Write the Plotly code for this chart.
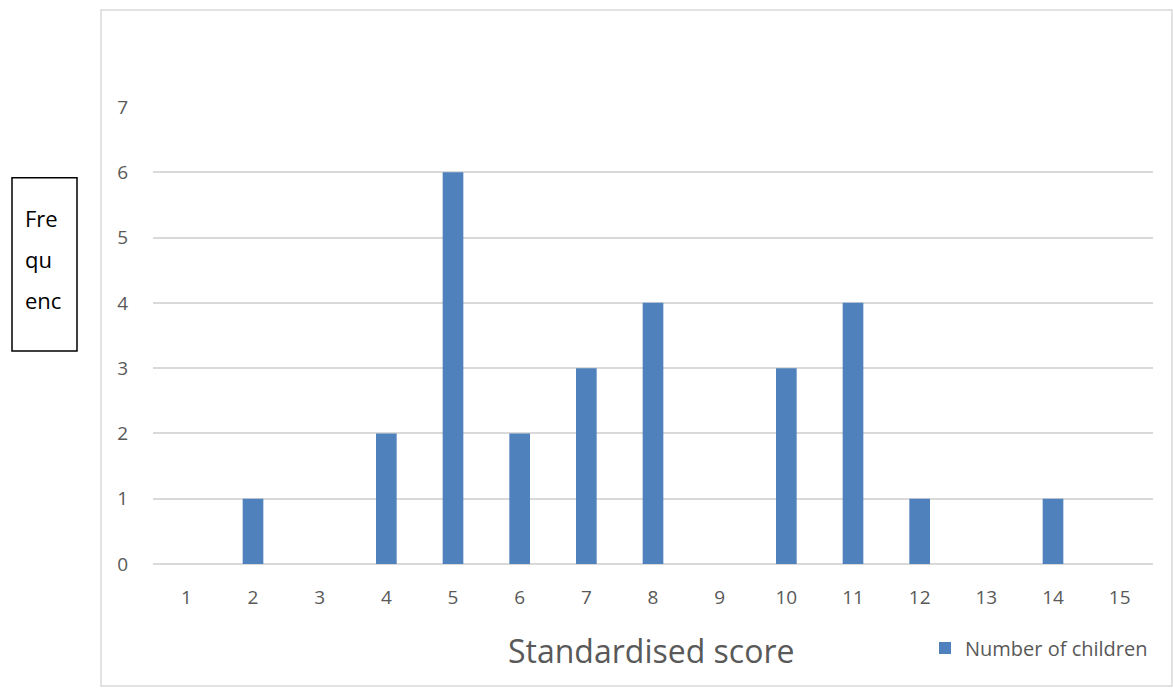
import plotly.graph_objects as go

# data
scores = ['1', '2', '3', '4', '5', '6', '7', '8', '9', '10', '11', '12', '13', '14', '15']
children = [0, 1, 0, 2, 6, 2, 3, 4, 0, 3, 4, 1, 0, 1, 0]

fig = go.Figure()
fig.add_trace(go.Bar(x=scores, y=children, name='Number of children',
                     marker=dict(color='#4F81BD', line=dict(width=0)), width=0.31))

fig.update_layout(
    width=1173, height=688,
    margin=dict(l=153, r=20, t=107, b=124),
    plot_bgcolor='white', paper_bgcolor='white',
    font=dict(family='Open Sans, Liberation Sans, sans-serif', color='#595959', size=16),
    showlegend=True,
    legend=dict(x=0.772, y=-0.184, xanchor='left', yanchor='middle',
                font=dict(size=20, color='#595959'), bgcolor='rgba(0,0,0,0)'),
)
fig.update_xaxes(type='category', showgrid=False, showline=False,
                 ticks='outside', ticklen=16, tickcolor='rgba(0,0,0,0)',
                 tickfont=dict(size=19, color='#595959'))
fig.update_yaxes(range=[0, 7], dtick=1, showgrid=True, gridcolor='#D9D9D9', gridwidth=1.5,
                 zeroline=True, zerolinecolor='#D9D9D9', zerolinewidth=1.5, showline=False,
                 ticks='outside', ticklen=20, tickcolor='rgba(0,0,0,0)',
                 tickfont=dict(size=19, color='#595959'))

# axis title
fig.add_annotation(text='Standardised score', xref='paper', yref='paper', x=0.498, y=-0.19,
                   xanchor='center', yanchor='middle',
                   showarrow=False, font=dict(size=32, color='#595959'))

# chart border
fig.add_shape(type='rect', xref='paper', yref='paper', x0=-0.052, x1=1.019, y0=-0.267, y1=1.212,
              line=dict(color='#D9D9D9', width=1.5), fillcolor='rgba(0,0,0,0)', layer='below')

# frequency text box
fig.add_shape(type='rect', xref='paper', yref='paper', x0=-0.141, x1=-0.076, y0=0.466, y1=0.845,
              line=dict(color='black', width=1.5), fillcolor='rgba(0,0,0,0)')
for i, part in enumerate(['Fre', 'qu', 'enc']):
    fig.add_annotation(text=part, xref='paper', yref='paper', x=-0.13, y=(564 - 218 - 41 * i) / 457,
                       xanchor='left', yanchor='middle', showarrow=False,
                       font=dict(size=22, color='black'))

fig.write_html('out.html', config={'displayModeBar': False},
               post_script="document.body.style.margin='0';")
